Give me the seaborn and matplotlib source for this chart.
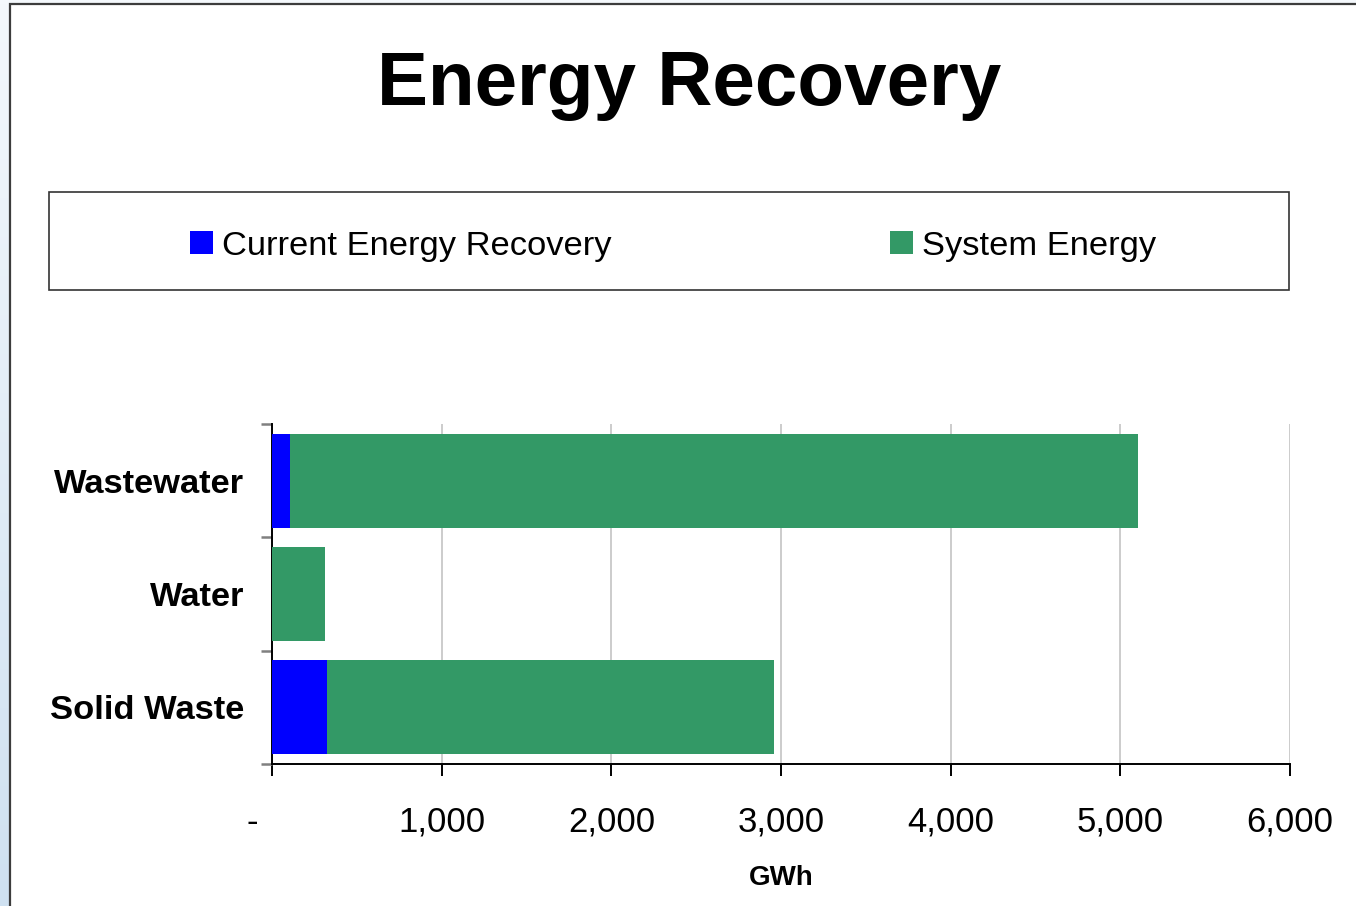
import numpy as np
import matplotlib
matplotlib.use("Agg")
import matplotlib.pyplot as plt
from matplotlib.patches import Patch, Rectangle
import seaborn as sns

# -----------------------------
# Data (GWh)
# -----------------------------
categories = ["Wastewater", "Water", "Solid Waste"]
current_recovery = [105, 0, 325]
system_energy = [5000, 312, 2635]
series_names = ["Current Energy Recovery", "System Energy"]
x_ticks = [0, 1000, 2000, 3000, 4000, 5000, 6000]
x_tick_labels = ["-    ", "1,000", "2,000", "3,000", "4,000", "5,000", "6,000"]

blue = "#0000ff"
green = "#339966"

sns.set_style("white")
plt.rcParams["font.family"] = ["Liberation Sans", "DejaVu Sans"]
for key in ["text.color", "axes.labelcolor", "xtick.color", "ytick.color"]:
    plt.rcParams[key] = "black"

W, H = 1356, 906
fig = plt.figure(figsize=(W / 100, H / 100), dpi=100)

# background: light blue gradient behind a white framed slide
ax_bg = fig.add_axes([0, 0, 1, 1], zorder=-10)
grad = np.linspace(0, 1, 256).reshape(-1, 1)
cmap = matplotlib.colors.LinearSegmentedColormap.from_list("bg", ["#f4f8fc", "#cfe1f1"])
ax_bg.imshow(grad, aspect="auto", cmap=cmap, extent=[0, 1, 0, 1], origin="upper")
ax_bg.add_patch(Rectangle((10 / W, -0.1), 1.2, 1.1 - 4 / H, facecolor="white",
                          edgecolor="#3c3c3c", lw=1.6))
# legend frame
ax_bg.add_patch(Rectangle((49 / W, 1 - 290 / H), (1289 - 49) / W, 98 / H,
                          facecolor="white", edgecolor="#333333", lw=1.2))
ax_bg.set_xlim(0, 1)
ax_bg.set_ylim(0, 1)
ax_bg.axis("off")

# -----------------------------
# Stacked horizontal bars
# -----------------------------
ax = fig.add_axes([272 / W, 1 - 764 / H, (1290 - 272) / W, (764 - 424) / H])
totals = [c + s for c, s in zip(current_recovery, system_energy)]
sns.barplot(x=totals, y=categories, orient="h", color=green, saturation=1,
            width=0.83, linewidth=0, edgecolor="none", ax=ax, zorder=3)
sns.barplot(x=current_recovery, y=categories, orient="h", color=blue, saturation=1,
            width=0.83, linewidth=0, edgecolor="none", ax=ax, zorder=4)

ax.set_xlim(0, 6000)
ax.set_ylim(2.5, -0.5)
ax.set_xticks(x_ticks)
ax.set_xticklabels(x_tick_labels, fontsize=25)
ax.set_yticks(range(len(categories)))
ax.set_yticklabels(categories, fontsize=24.8, fontweight="bold")
ax.set_yticks([-0.5, 0.5, 1.5, 2.5], minor=True)
ax.set_xlabel("")
ax.set_ylabel("")

ax.tick_params(axis="x", which="major", direction="out", length=8.5, width=1.4,
               color="black", pad=21.5, bottom=True)
ax.tick_params(axis="y", which="major", length=0, pad=20)
ax.tick_params(axis="y", which="minor", direction="out", length=8, width=1.8,
               color="#808080", left=True)

ax.xaxis.grid(True, color="#c8c8c8", lw=1.3, zorder=0)
ax.yaxis.grid(False)
ax.set_axisbelow(True)
for side in ["top", "right"]:
    ax.spines[side].set_visible(False)
for side in ["left", "bottom"]:
    ax.spines[side].set_color("black")
    ax.spines[side].set_linewidth(1.4)
ax.set_facecolor("white")

# titles and axis label
fig.text(689 / W, 1 - 105 / H, "Energy Recovery", ha="center", va="baseline",
         fontsize=55, fontweight="bold")
fig.text(781 / W, 1 - 885 / H, "GWh", ha="center", va="baseline",
         fontsize=20, fontweight="bold")

# legend
handles = [Patch(facecolor=blue, edgecolor="none"), Patch(facecolor=green, edgecolor="none")]
fig.legend(handles, series_names, loc="center left",
           bbox_to_anchor=(190 / W, 1 - 246 / H), ncol=2, frameon=False,
           borderpad=0, borderaxespad=0, handlelength=0.67, handleheight=0.67,
           handletextpad=0.27, columnspacing=8.07, fontsize=24.8)

fig.savefig("out.png", dpi=100)
